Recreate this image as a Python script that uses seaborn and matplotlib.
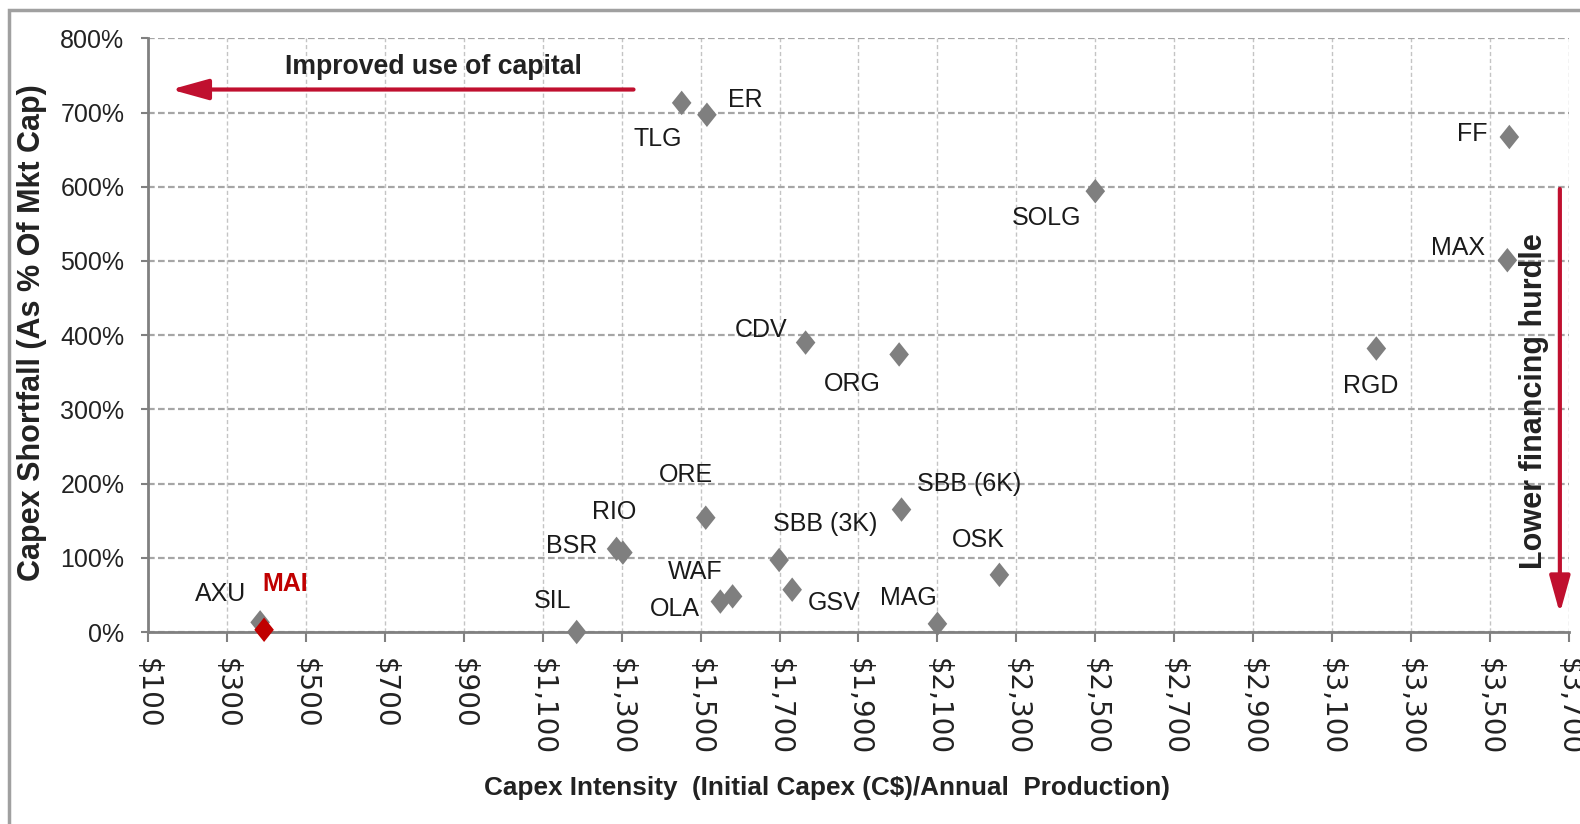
import matplotlib
matplotlib.use("Agg")
import matplotlib.pyplot as plt
from matplotlib.patches import Rectangle
import seaborn as sns
import pandas as pd

# ---- data ----
companies = ["TLG", "ER", "FF", "SOLG", "MAX", "CDV", "ORG", "RGD", "ORE", "SBB (6K)",
             "BSR", "RIO", "SBB (3K)", "WAF", "OLA", "GSV", "OSK", "MAG", "SIL", "AXU", "MAI"]
capex_intensity = [1452, 1516, 3549, 2500, 3544, 1766, 2003, 3212, 1513, 2009,
                   1287, 1303, 1699, 1581, 1550, 1732, 2257, 2100, 1186, 384, 394]
capex_shortfall = [713, 697, 667, 594, 501, 390, 374, 382, 154, 165,
                   112, 107, 97, 48, 41, 57, 77, 11, 0, 13, 3]
group = ["peer"] * 20 + ["MAI"]

x_tick_values = list(range(100, 3701, 200))
x_tick_labels = [f"${v:,}" for v in x_tick_values]
y_tick_values = list(range(0, 801, 100))
y_tick_labels = [f"{v}%" for v in y_tick_values]

# label offsets (pixels) relative to each point
label_offsets = {
    "TLG": (-24, -36), "ER": (38, 15), "FF": (-37, 3), "SOLG": (-49, -27),
    "MAX": (-49, 12), "CDV": (-45, 13), "ORG": (-47, -30), "RGD": (-6, -37),
    "ORE": (-20, 43), "SBB (6K)": (68, 26), "BSR": (-45, 3), "RIO": (-9, 41),
    "SBB (3K)": (46, 36), "WAF": (-37, 24), "OLA": (-45, -7), "GSV": (42, -13),
    "OSK": (-21, 35), "MAG": (-29, 26), "SIL": (-24, 31), "AXU": (-40, 28),
    "MAI": (21, 46),
}

df = pd.DataFrame({"company": companies, "capex_intensity": capex_intensity,
                   "shortfall": capex_shortfall, "group": group})

sns.set_theme(style="white")
plt.rcParams["font.family"] = ["Liberation Sans", "DejaVu Sans"]
RED = "#C0102F"
GRAY = "#7F7F7F"
TXT = "#222222"

fig = plt.figure(figsize=(15.8, 8.24), dpi=100)
fig.patch.set_facecolor("white")
ax = fig.add_axes([0.0937, 0.233, 0.8993, 0.7205])

diamond = [(-0.8, 0.0), (0.0, 1.0), (0.8, 0.0), (0.0, -1.0), (-0.8, 0.0)]
sns.scatterplot(data=df, x="capex_intensity", y="shortfall", hue="group",
                palette={"peer": GRAY, "MAI": "#C00000"}, marker=diamond,
                s=310, linewidth=0, legend=False, ax=ax, zorder=4, clip_on=False)

for name, xv, yv in zip(companies, capex_intensity, capex_shortfall):
    dx, dy = label_offsets[name]
    if name == "MAI":
        ax.annotate(name, (xv, yv), xytext=(dx, dy), textcoords="offset pixels",
                    ha="center", va="center", fontsize=18, fontweight="bold",
                    color="#C00000", zorder=5)
    else:
        ax.annotate(name, (xv, yv), xytext=(dx, dy), textcoords="offset pixels",
                    ha="center", va="center", fontsize=18, color="#1a1a1a", zorder=5)

ax.set_xlim(100, 3700)
ax.set_ylim(0, 800)
ax.set_xticks(x_tick_values)
ax.set_xticklabels(x_tick_labels, rotation=-90, fontsize=20, family="DejaVu Sans",
                   color=TXT)
ax.set_yticks(y_tick_values)
ax.set_yticklabels(y_tick_labels, fontsize=18, color=TXT)

ax.xaxis.grid(True, color="#C4C4C4", linestyle=(0, (3, 2)), linewidth=1.0)
ax.yaxis.grid(True, color="#A6A6A6", linestyle=(0, (3, 1.5)), linewidth=1.6)
ax.set_axisbelow(True)

for side in ["top", "right"]:
    ax.spines[side].set_visible(False)
for side in ["left", "bottom"]:
    ax.spines[side].set_color("#808080")
    ax.spines[side].set_linewidth(2)
    ax.spines[side].set_zorder(3)

ax.tick_params(axis="x", length=7, width=1.5, color="#808080", pad=12, bottom=True)
ax.tick_params(axis="y", length=5, width=1.5, color="#808080", pad=12, left=True)

ax.set_xlabel("Capex Intensity  (Initial Capex (C$)/Annual  Production)",
              fontsize=18.8, fontweight="bold", color=TXT)
ax.xaxis.set_label_coords(0.4775, -0.2425)
ax.set_ylabel("Capex Shortfall (As % Of Mkt Cap)", fontsize=22, fontweight="bold",
              color=TXT)
ax.yaxis.set_label_coords(-0.071, 0.505)

# annotations
ax.annotate("", xy=(158, 731), xytext=(1330, 731),
            arrowprops=dict(arrowstyle="-|>,head_length=0.9,head_width=0.25",
                            color=RED, lw=3, mutation_scale=25, shrinkA=0, shrinkB=0),
            zorder=5)
ax.text(822, 762, "Improved use of capital", ha="center", va="center",
        fontsize=19.2, fontweight="bold", color=TXT)

ax.annotate("", xy=(3677, 25), xytext=(3677, 597),
            arrowprops=dict(arrowstyle="-|>,head_length=0.9,head_width=0.25",
                            color=RED, lw=3, mutation_scale=25, shrinkA=0, shrinkB=0),
            zorder=5, annotation_clip=False)
ax.text(3612, 311, "Lower financing hurdle", ha="center", va="center",
        rotation=90, fontsize=22, fontweight="bold", color=TXT)

# outer frame (left and top edges visible)
fig.add_artist(Rectangle((0.0058, -0.1), 1.2, 1.088, transform=fig.transFigure,
                         fill=False, edgecolor="#A0A0A0", linewidth=2.5))

fig.savefig("out.png", dpi=100, facecolor="white")
